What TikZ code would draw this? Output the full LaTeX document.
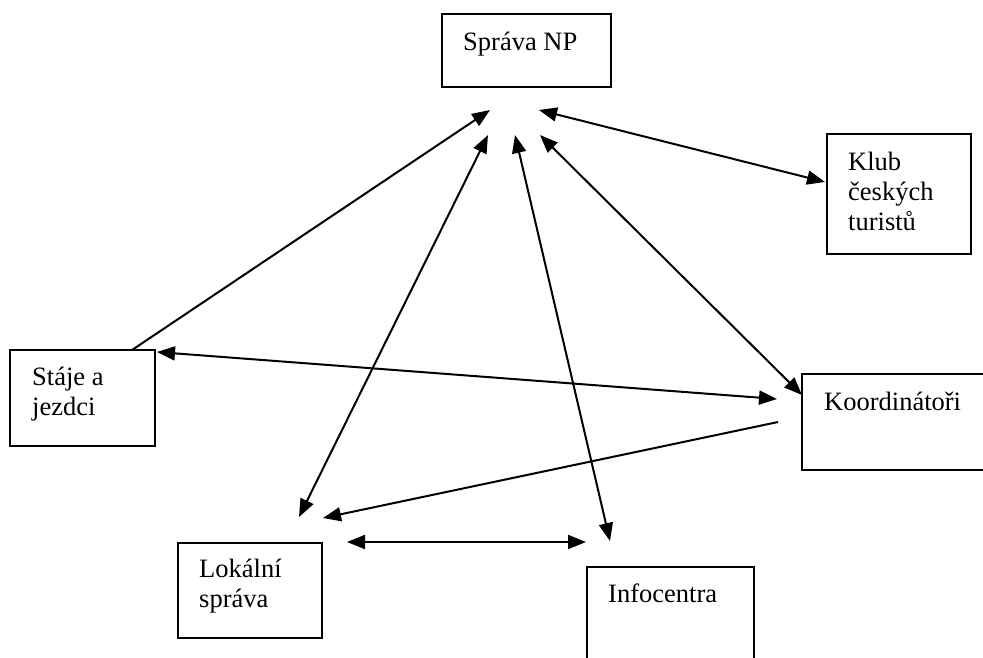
\documentclass[tikz,border=0pt]{standalone}
\usepackage{fontspec}
\setmainfont{Liberation Serif}
\usetikzlibrary{arrows.meta}
\begin{document}
\begin{tikzpicture}[x=1pt,y=-1pt,
 box/.style={draw,line width=2pt,rectangle,inner sep=0pt,outer sep=0pt,anchor=north west},
 lbl/.style={anchor=base west,inner sep=0pt,font=\fontsize{26.5}{30}\selectfont},
 conn/.style={line width=2pt},
 tip/.style={conn,-{Triangle[length=18pt,width=14pt]}},
 both/.style={conn,{Triangle[length=18pt,width=14pt]}-{Triangle[length=18pt,width=14pt]}}]
\useasboundingbox (0,0) rectangle (983,657);
\clip (0,0) rectangle (983,657);
% boxes
\node[box,minimum width=169pt,minimum height=73pt] (sprava) at (442,14) {};
\node[box,minimum width=144pt,minimum height=120pt] (klub) at (827,134) {};
\node[box,minimum width=145pt,minimum height=96pt] (staje) at (10,350) {};
\node[box,minimum width=200pt,minimum height=96pt] (koord) at (802,374) {};
\node[box,minimum width=144pt,minimum height=95pt] (lokal) at (178,543) {};
\node[box,minimum width=167pt,minimum height=100pt] (info) at (587,567) {};
% texts
\node[lbl] (tsprava) at (463,50) {Správa NP};
\node[lbl] (tklub1) at (848,170) {Klub};
\node[lbl] (tklub2) at (848,200) {českých};
\node[lbl] (tklub3) at (848,230) {turistů};
\node[lbl] (tstaje1) at (32,385) {Stáje a};
\node[lbl] (tstaje2) at (32,415) {jezdci};
\node[lbl] (tkoord) at (824,410) {Koordinátoři};
\node[lbl] (tlokal1) at (199,577) {Lokální};
\node[lbl] (tlokal2) at (199,607) {správa};
\node[lbl] (tinfo) at (608,602) {Infocentra};
% connector ends
\coordinate (sA) at (132,350);
\coordinate (tA) at (490,110);
\coordinate (lL) at (299,517);
\coordinate (tL) at (488,135);
\coordinate (tI) at (515,135);
\coordinate (iI) at (610,541);
\coordinate (tK) at (540,135);
\coordinate (kK) at (802,395);
\coordinate (tC) at (539,110);
\coordinate (cC) at (825,182);
\coordinate (sK) at (157,352);
\coordinate (kS) at (777,399);
\coordinate (kL) at (778,422);
\coordinate (lK) at (323,518);
\coordinate (lI) at (347,542);
\coordinate (iL) at (586,542);
% connectors
\draw[tip] (sA) -- (tA);
\draw[both] (lL) -- (tL);
\draw[both] (tI) -- (iI);
\draw[both] (tK) -- (kK);
\draw[both] (tC) -- (cC);
\draw[both] (sK) -- (kS);
\draw[tip] (kL) -- (lK);
\draw[both] (lI) -- (iL);
\end{tikzpicture}
\end{document}
